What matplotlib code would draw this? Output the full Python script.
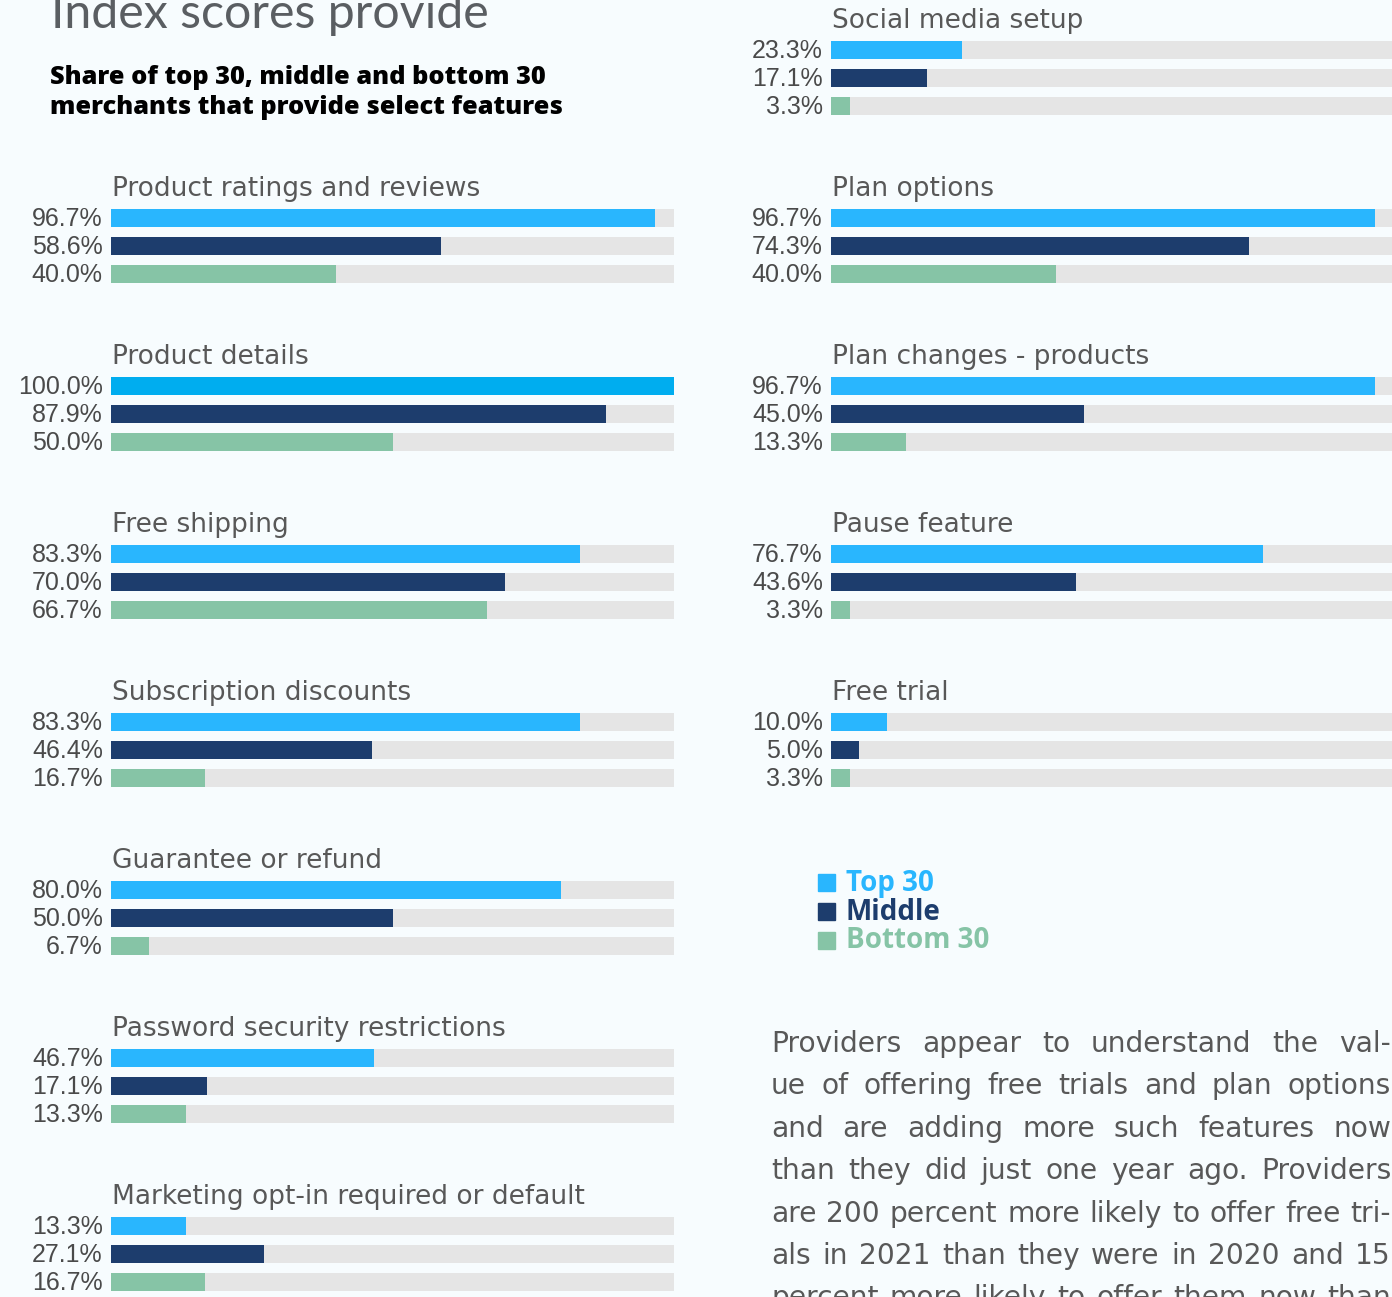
import matplotlib
matplotlib.use("Agg")
import matplotlib.pyplot as plt
from matplotlib.patches import Rectangle

# data
left_features = ["Product ratings and reviews", "Product details", "Free shipping",
                 "Subscription discounts", "Guarantee or refund",
                 "Password security restrictions", "Marketing opt-in required or default"]
left_top = [96.7, 100.0, 83.3, 83.3, 80.0, 46.7, 13.3]
left_middle = [58.6, 87.9, 70.0, 46.4, 50.0, 17.1, 27.1]
left_bottom = [40.0, 50.0, 66.7, 16.7, 6.7, 13.3, 16.7]

right_features = ["Social media setup", "Plan options", "Plan changes - products",
                  "Pause feature", "Free trial"]
right_top = [23.3, 96.7, 96.7, 76.7, 10.0]
right_middle = [17.1, 74.3, 45.0, 43.6, 5.0]
right_bottom = [3.3, 40.0, 13.3, 3.3, 3.3]

series_names = ["Top 30", "Middle", "Bottom 30"]

heading = "Index scores provide"
subtitle = "Share of top 30, middle and bottom 30\nmerchants that provide select features"
paragraph = ["Providers appear to understand the val-",
             "ue of offering free trials and plan options",
             "and are adding more such features now",
             "than they did just one year ago. Providers",
             "are 200 percent more likely to offer free tri-",
             "als in 2021 than they were in 2020 and 15",
             "percent more likely to offer them now than"]

# style
W, H = 1392, 1297
BG = "#f7fcfe"
TRACK = "#e5e5e5"
COLORS = ["#29b6fe", "#1d3d6d", "#86c4a6"]
FULL_TOP = "#00adef"
TXT = "#585858"
NUM_FONT = ["Liberation Sans Narrow", "Liberation Sans", "DejaVu Sans"]
LBL_FONT = ["DejaVu Sans"]
BOLD_FONT = ["Open Sans", "DejaVu Sans"]

fig = plt.figure(figsize=(W / 100, H / 100), dpi=100, facecolor=BG)
renderer = fig.canvas.get_renderer()


def px(x, y):
    return x / W, 1 - y / H


def fit(t, target):
    # scale a text's font so its width matches the target width in px
    w = t.get_window_extent(renderer).width
    t.set_fontsize(t.get_fontsize() * target / w)
    return t


# scale factor for group titles from the widest known title
probe = fig.text(0, 0, "Product ratings and reviews", fontsize=17, family=LBL_FONT)
fit(probe, 368)
TITLE_FS = probe.get_fontsize()
probe.remove()

ROW = 28.0          # px between bars
GROUP = 6           # rows per group
Y0 = 218.0          # px of first left bar
y_top = -Y0 / ROW
y_bot = (H - Y0) / ROW


def column(x_left, features, top, mid, bot, g_offset):
    ax = fig.add_axes([x_left / W, 0, 563 / W, 1])
    ax.set_xlim(0, 100)
    ax.set_ylim(y_bot, y_top)
    ax.axis("off")
    ax.patch.set_alpha(0)
    for g, name in enumerate(features):
        base = (g + g_offset) * GROUP
        vals = [top[g], mid[g], bot[g]]
        ys = [base + r for r in range(3)]
        ax.barh(ys, [100] * 3, height=0.64, color=TRACK, left=0)
        cols = list(COLORS)
        if vals[0] >= 100:
            cols[0] = FULL_TOP
        ax.barh(ys, vals, height=0.64, color=cols, left=0)
        for y, v in zip(ys, vals):
            ax.text(-1.45, y + 0.04, "%.1f%%" % v, ha="right", va="center",
                    fontsize=18, color="#4a4a4a", family=NUM_FONT, clip_on=False)
        ax.text(0.2, base - 1.05, name, ha="left", va="center", fontsize=TITLE_FS,
                color=TXT, family=LBL_FONT, clip_on=False)
    return ax


column(111, left_features, left_top, left_middle, left_bottom, 0)
column(831, right_features, right_top, right_middle, right_bottom, -1)

# heading and subtitle
t = fig.text(*px(51, 28), heading, ha="left", va="baseline", fontsize=35,
             color="#5a5e62", family=["Lato", "DejaVu Sans"], fontweight="normal")
fit(t, 438)
t = fig.text(*px(50, 92.5), subtitle, ha="left", va="center", fontsize=17,
             color="black", family=BOLD_FONT, fontweight=800, linespacing=1.22)
fit(t, 514)

# legend
leg_fs = None
for i, name in enumerate(series_names):
    cy = 882 + i * 29
    fig.patches.append(Rectangle(px(818, cy + 8.5), 17 / W, 17 / H,
                                 transform=fig.transFigure, color=COLORS[i]))
    t = fig.text(*px(846, cy + 1), name, ha="left", va="center", fontsize=18,
                 color=COLORS[i], family=BOLD_FONT, fontweight="bold")
    if leg_fs is None:
        fit(t, 88)
        leg_fs = t.get_fontsize()
    t.set_fontsize(leg_fs)

# justified paragraph
x0, x1 = 771, 1391
probe = fig.text(0, 0, paragraph[4], fontsize=18, family=LBL_FONT)
fit(probe, 617)
PARA_FS = probe.get_fontsize()
probe.remove()
for i, line in enumerate(paragraph):
    words = line.split()
    y = 1044 + i * 42.4
    texts = []
    widths = []
    for w in words:
        t = fig.text(*px(x0, y), w, ha="left", va="center", fontsize=PARA_FS,
                     color=TXT, family=LBL_FONT)
        texts.append(t)
        widths.append(t.get_window_extent(renderer).width)
    gap = (x1 - x0 - sum(widths)) / (len(words) - 1)
    x = x0
    for t, wd in zip(texts, widths):
        t.set_x(x / W)
        x += wd + gap

fig.savefig("out.png", dpi=100, facecolor=BG)
